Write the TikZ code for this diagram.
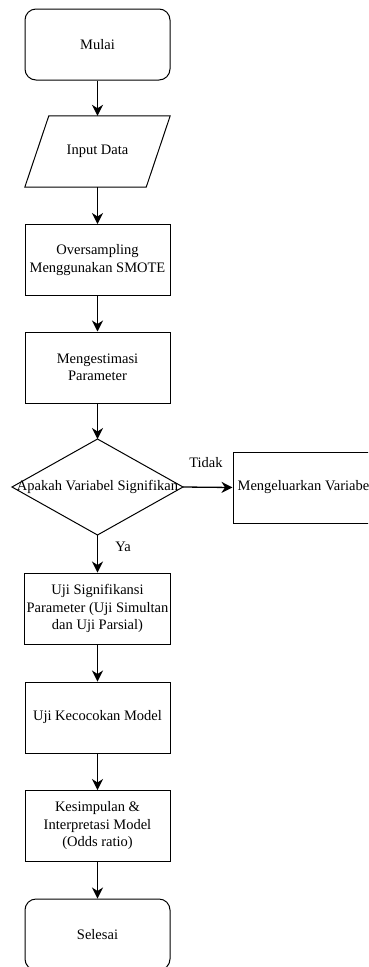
\documentclass[tikz,border=0pt]{standalone}
\usepackage{fontspec}
\setmainfont{LiberationSerif}[Extension=.ttf,UprightFont=*-Regular,BoldFont=*-Bold]
\usetikzlibrary{arrows.meta,calc}
\begin{document}
\begin{tikzpicture}[x=1pt,y=-1pt,
  txt/.style={font=\rmfamily\fontsize{14.5}{17.5}\selectfont},
  box/.style={txt,draw=black,line width=1pt,minimum width=145pt,minimum height=71pt,align=center,inner sep=2pt},
  term/.style={box,rounded corners=11pt},
  ghost/.style={txt,draw=none,align=center,inner sep=0pt},
  outline/.style={draw=black,line width=1pt},
  conn/.style={line width=1.3pt,-{Stealth[length=11pt,width=11pt,inset=3.5pt]}},
  lbl/.style={txt,inner sep=0pt}
]
\clip (0,0) rectangle (368,967);
\node[term] (mulai) at (97.5,44.5) {Mulai};
\node[ghost,minimum width=121pt,minimum height=71pt] (input) at (97.5,151.5) {Input Data};
\draw[outline] ($(input.north west)+(12,0)$) -- ($(input.north east)+(12,0)$) -- ($(input.south east)+(-12,0)$) -- ($(input.south west)+(-12,0)$) -- cycle;
\node[box] (over) at (97.5,260) {Oversampling\\Menggunakan SMOTE};
\node[box] (estim) at (97.5,367.5) {Mengestimasi\\Parameter};
\node[ghost] (dec) at (97.5,487) {Apakah Variabel Signifikan};
\coordinate (dt) at (97.5,439);
\coordinate (db) at (97.5,535);
\coordinate (dl) at (12,487);
\coordinate (dr) at (183,487);
\draw[outline] (dt) -- (dr) -- (db) -- (dl) -- cycle;
\node[box] (keluar) at (305.5,487.5) {Mengeluarkan Variabel};
\node[box] (uji) at (97.5,608.5) {Uji Signifikansi\\Parameter (Uji Simultan\\dan Uji Parsial)};
\node[box] (cocok) at (97.5,717.5) {Uji Kecocokan Model};
\node[box] (kesim) at (97.5,826) {Kesimpulan \&\\Interpretasi Model\\(Odds ratio)};
\node[term] (selesai) at (97.5,934.5) {Selesai};
\node[lbl] (tidak) at (206,463) {Tidak};
\node[lbl] (ya) at (123,547) {Ya};
\draw[conn] (mulai.south) -- (input.north);
\draw[conn] (input.south) -- (over.north);
\draw[conn] (over.south) -- (estim.north);
\draw[conn] (estim.south) -- (dt);
\draw[conn] (dr) -- (keluar.west);
\draw[conn] (db) -- (uji.north);
\draw[conn] (uji.south) -- (cocok.north);
\draw[conn] (cocok.south) -- (kesim.north);
\draw[conn] (kesim.south) -- (selesai.north);
\end{tikzpicture}
\end{document}
